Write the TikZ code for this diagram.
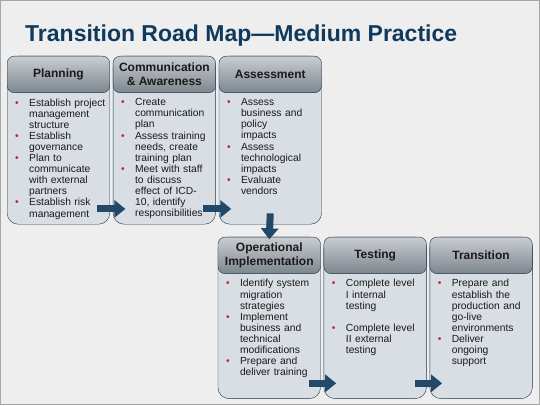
\documentclass[tikz,border=0pt]{standalone}
\usepackage{fontspec}
\setmainfont{Liberation Sans}
\usepackage{xcolor}
\definecolor{Slide Gray}{HTML}{EEEEEE}
\definecolor{Frame Navy}{HTML}{1D3448}
\definecolor{Deep Navy}{HTML}{0F3A5E}
\colorlet{cSlide}{Slide Gray}
\colorlet{cFrame}{Frame Navy}
\colorlet{cTitle}{Deep Navy}
\definecolor{cEdge}{HTML}{A6A6A6}
\definecolor{cBody}{HTML}{D8DEE3}
\definecolor{cHeadTop}{HTML}{C9CDD1}
\definecolor{cHeadBot}{HTML}{7D868E}
\definecolor{cText}{HTML}{1A1A1A}
\definecolor{cBullet}{HTML}{C0262D}
\definecolor{cArrow}{HTML}{22486A}
\usetikzlibrary{calc, arrows.meta, positioning}
\tikzset{
	node distance = 3pt,
	line width = 1.1pt,
	stepbox/.style={
		draw=cFrame,
		fill=cBody,
		rounded corners=11pt,
		minimum width=102.5pt,
		inner sep=0pt
	},
	stephead/.style={
		draw=cFrame,
		top color=cHeadTop,
		bottom color=cHeadBot,
		rounded corners=7pt,
		minimum width=102.5pt,
		minimum height=36.5pt,
		inner sep=0pt,
		align=center,
		text=cText,
		font=\fontsize{12}{14}\selectfont\bfseries
	},
	steptext/.style={
		anchor=north west,
		text width=92pt,
		inner sep=0pt,
		align=left,
		text=cText,
		font=\fontsize{10.3}{11.1}\selectfont
	},
	flow/.style={
		draw=cArrow,
		line width=7pt,
		-{Triangle[width=17pt,length=11pt]}
	}
}
\newcommand{\stepitem}[1]{\noindent\hangindent=14pt\hangafter=1\makebox[14pt][l]{\textcolor{cBullet}{\textbullet}}#1\par}
\newcommand{\stepgap}{\vspace{11.1pt}}
\newcommand{\nl}{\newline}

\begin{document}
\begin{tikzpicture}[x=1pt, y=1pt]
	\useasboundingbox (0,0) rectangle (540,405);
	\draw[draw=cEdge, fill=cSlide, line width=1pt] (0.5,0.5) rectangle (539.5,404.5);
	\node (title) [anchor=base west, inner sep=0pt, text=cTitle, font=\fontsize{23}{27}\selectfont\bfseries] at (25,363) {Transition Road Map—Medium Practice};

	% first row
	\node (plan) [stepbox, minimum height=168pt, anchor=north west] at (7,349) {};
	\node (comm) [stepbox, minimum height=168pt, right=of plan] {};
	\node (assess) [stepbox, minimum height=168pt, right=of comm] {};
	\node (planH) [stephead, anchor=north] at (plan.north) {Planning};
	\node (commH) [stephead, anchor=north] at (comm.north) {Communication\\\& Awareness};
	\node (assessH) [stephead, anchor=north] at (assess.north) {Assessment};

	% second row
	\node (ops) [stepbox, minimum height=161.5pt, below right=12.5pt and -1pt of assess.south west] {};
	\node (test) [stepbox, minimum height=161.5pt, right=of ops] {};
	\node (trans) [stepbox, minimum height=161.5pt, right=of test] {};
	\node (opsH) [stephead, anchor=north] at (ops.north) {Operational\\Implementation};
	\node (testH) [stephead, anchor=north] at (test.north) {Testing};
	\node (transH) [stephead, anchor=north] at (trans.north) {Transition};

	\node (planT) [steptext] at ([shift={(8,-5.5)}]planH.south west) {
		\stepitem{Establish project\nl management\nl structure}
		\stepitem{Establish\nl governance}
		\stepitem{Plan to\nl communicate\nl with external\nl partners}
		\stepitem{Establish risk\nl management}};
	\node (commT) [steptext] at ([shift={(8,-5.5)}]commH.south west) {
		\stepitem{Create\nl communication\nl plan}
		\stepitem{Assess training\nl needs, create\nl training plan}
		\stepitem{Meet with staff\nl to discuss\nl effect of ICD-\nl 10, identify\nl responsibilities}};
	\node (assessT) [steptext] at ([shift={(8,-5.5)}]assessH.south west) {
		\stepitem{Assess\nl business and\nl policy\nl impacts}
		\stepitem{Assess\nl technological\nl impacts}
		\stepitem{Evaluate\nl vendors}};
	\node (opsT) [steptext] at ([shift={(8,-5.5)}]opsH.south west) {
		\stepitem{Identify system\nl migration\nl strategies}
		\stepitem{Implement\nl business and\nl technical\nl modifications}
		\stepitem{Prepare and\nl deliver training}};
	\node (testT) [steptext] at ([shift={(8,-5.5)}]testH.south west) {
		\stepitem{Complete level\nl I internal\nl testing}
		\stepgap
		\stepitem{Complete level\nl II external\nl testing}};
	\node (transT) [steptext] at ([shift={(8,-5.5)}]transH.south west) {
		\stepitem{Prepare and\nl establish the\nl production and\nl go-live\nl environments}
		\stepitem{Deliver\nl ongoing\nl support}};

	\draw[flow] ([shift={(-12.5,15.5)}]plan.south east) -- ([shift={(12.5,15.5)}]comm.south west);
	\draw[flow] ([shift={(-12.5,15.5)}]comm.south east) -- ([shift={(12.5,15.5)}]assess.south west);
	\draw[flow] ([yshift=11pt]assess.south) -- ([yshift=-2.5pt]ops.north);
	\draw[flow] ([shift={(-12,15.5)}]ops.south east) -- ([shift={(12.5,15.5)}]test.south west);
	\draw[flow] ([shift={(-12,15.5)}]test.south east) -- ([shift={(12.5,15.5)}]trans.south west);
\end{tikzpicture}
\end{document}
